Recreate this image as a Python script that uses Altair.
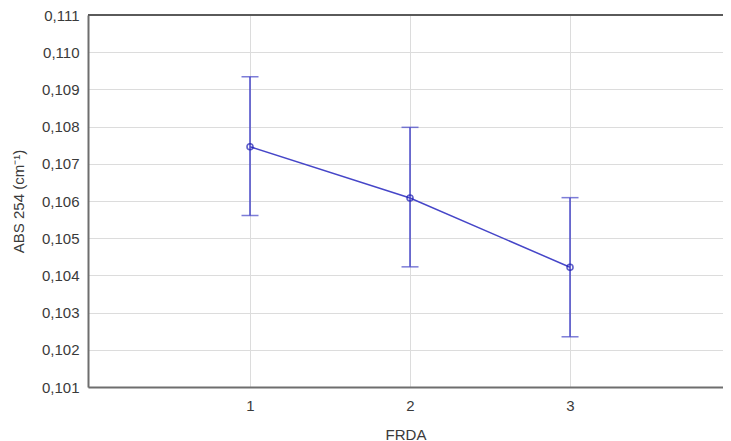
import altair as alt
import pandas as pd

frda = [1, 2, 3]
mean = [0.10746, 0.10608, 0.10422]
lower = [0.10561, 0.10423, 0.10235]
upper = [0.10934, 0.10798, 0.10609]

y_ticks = [0.101, 0.102, 0.103, 0.104, 0.105, 0.106, 0.107, 0.108, 0.109, 0.110, 0.111]
x_ticks = [1, 2, 3]

df = pd.DataFrame({"FRDA": frda, "mean": mean, "lower": lower, "upper": upper})

W, H = 635, 372
FONT = "Liberation Sans"
LINE = "#4646c8"
PT = "#1e1eb4"

xscale = alt.Scale(domain=[-0.0125, 3.956], nice=False, zero=False)
yscale = alt.Scale(domain=[0.101, 0.111], nice=False, zero=False)

xaxis = alt.Axis(values=x_ticks, title="FRDA", grid=True, gridColor="#dcdcdc", gridWidth=1,
                 ticks=False, domainColor="#6e6e6e", domainWidth=2, labelFont=FONT,
                 labelFontSize=15, labelColor="#3a3a3a", labelPadding=11, titleFont=FONT,
                 titleFontSize=15, titleFontWeight="normal", titleColor="#3a3a3a",
                 titlePadding=14, format="d", labelOverlap=False, labelFlush=False)
yaxis = alt.Axis(values=y_ticks, title="ABS 254 (cm⁻¹)", grid=True, gridColor="#dcdcdc",
                 gridWidth=1, ticks=False, domainColor="#6e6e6e", domainWidth=2,
                 labelFont=FONT, labelFontSize=15, labelColor="#3a3a3a", labelPadding=9,
                 labelOverlap=False, labelFlush=False,
                 labelExpr="replace(format(datum.value, '.3f'), '.', ',')",
                 titleFont=FONT, titleFontSize=15, titleFontWeight="normal",
                 titleColor="#3a3a3a", titleX=-70, titleY=H / 2, titleAngle=-90,
                 titleAlign="center", titleBaseline="middle")

X = alt.X("FRDA:Q", scale=xscale, axis=xaxis)


def Y(field):
    return alt.Y(field, type="quantitative", scale=yscale, axis=yaxis)


base = alt.Chart(df)

line = base.mark_line(color=LINE, strokeWidth=1.5).encode(x=X, y=Y("mean"))
rule = base.mark_rule(color=LINE, strokeWidth=1.5).encode(x=X, y=Y("lower"), y2="upper:Q")
cap_hi = base.mark_tick(color=LINE, thickness=1.5, size=17, orient="horizontal").encode(
    x=X, y=Y("upper"))
cap_lo = base.mark_tick(color=LINE, thickness=1.5, size=17, orient="horizontal").encode(
    x=X, y=Y("lower"))
pts = base.mark_point(shape="circle", filled=False, color=PT, size=36, strokeWidth=1.6).encode(
    x=X, y=Y("mean"))
top = alt.Chart(pd.DataFrame({"k": [0]})).mark_rule(color="#5a5a5a", strokeWidth=2).encode(
    x=alt.value(0), x2=alt.value(W), y=alt.value(0)
)

chart = alt.layer(line, rule, cap_hi, cap_lo, pts, top).properties(
    width=W, height=H,
    autosize=alt.AutoSizeParams(type="none"),
    padding={"left": 80, "top": 7, "right": 0, "bottom": 54},
).configure_view(stroke=None).configure(background="white")

chart.save("out.html", embed_options={"renderer": "svg", "actions": False})
